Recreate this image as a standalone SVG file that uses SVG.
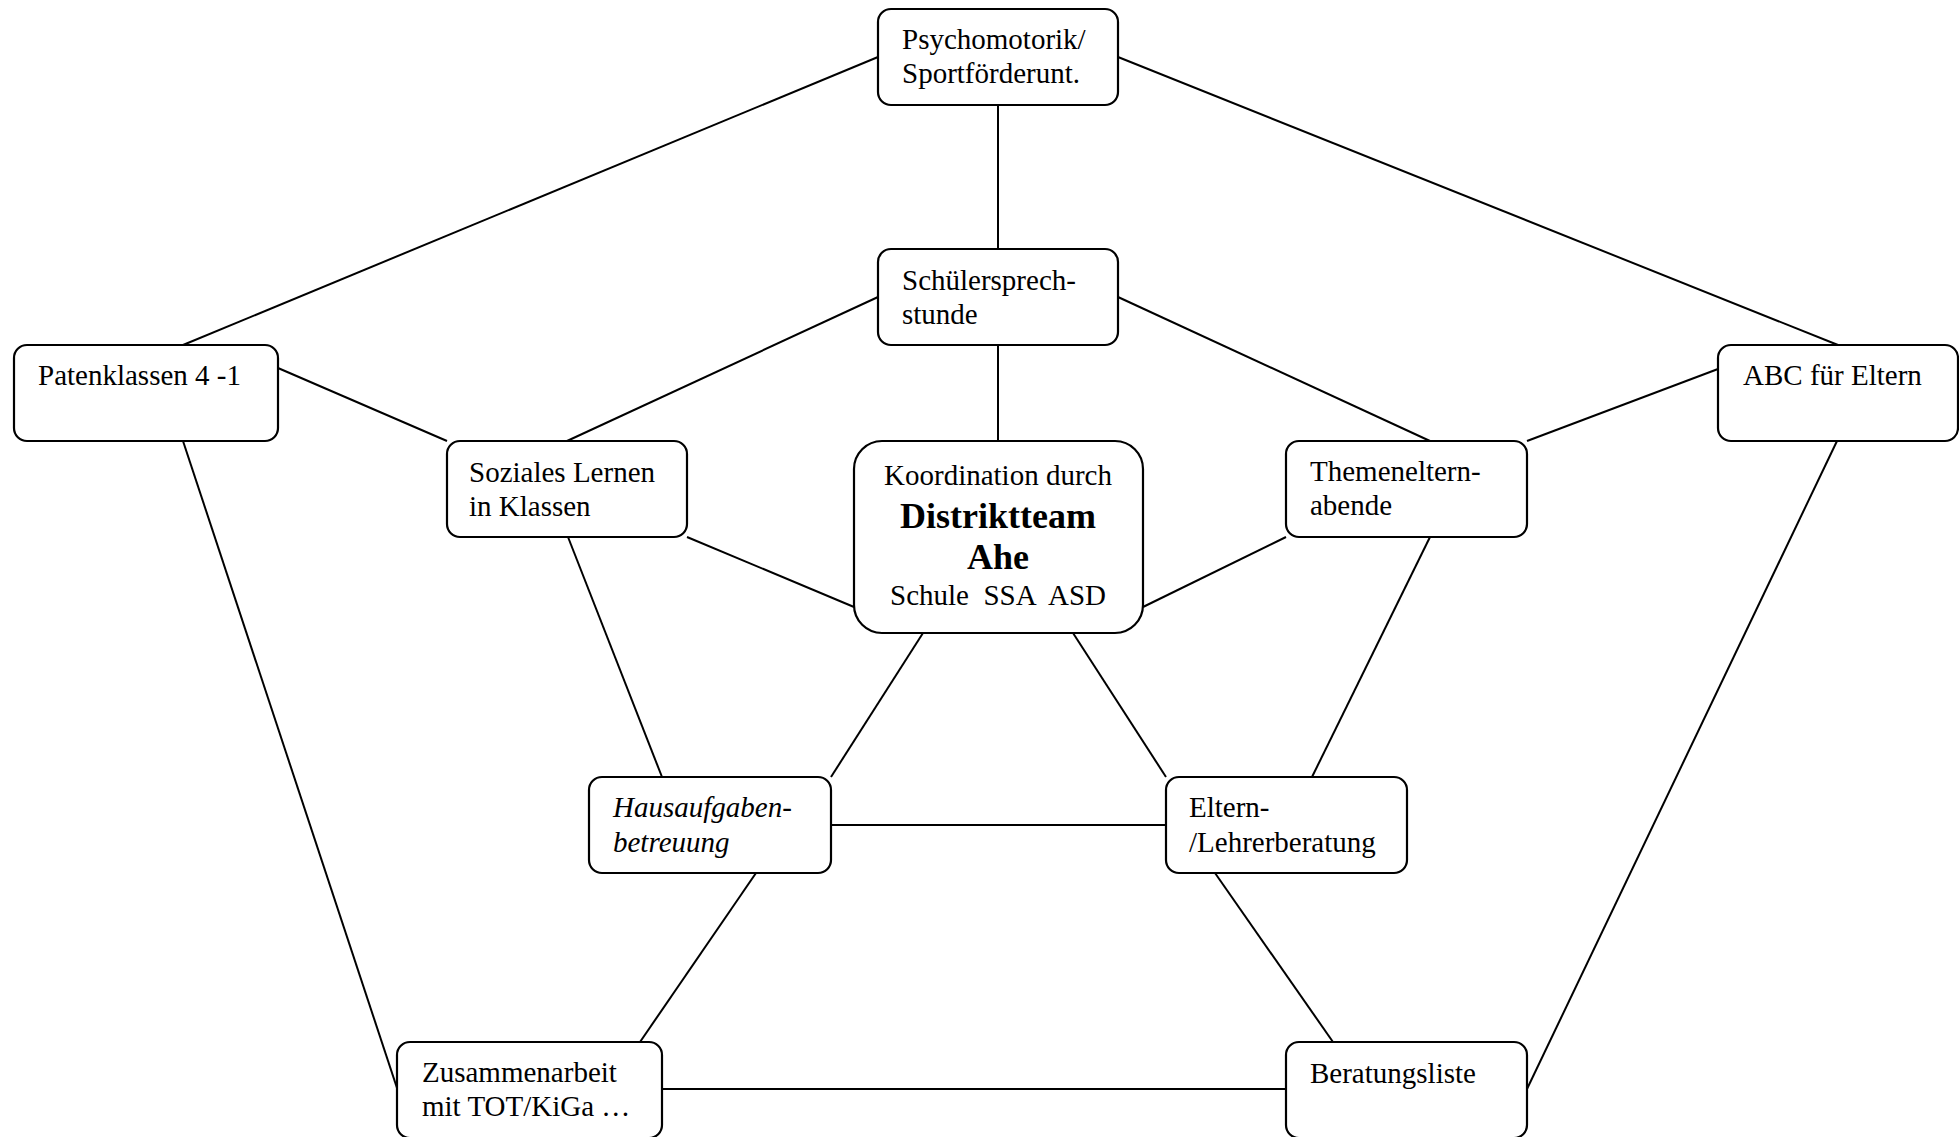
<svg xmlns="http://www.w3.org/2000/svg" width="1959" height="1137" viewBox="0 0 1959 1137">
  <style>
    .box { fill: #ffffff; stroke: #000000; stroke-width: 2.2; }
    .link { stroke: #000000; stroke-width: 2; fill: none; }
    text { font-family: "Liberation Serif", "Times New Roman", serif; font-size: 29px; fill: #000000; }
    .it { font-style: italic; }
    .bold { font-weight: bold; font-size: 36px; }
    .mid { text-anchor: middle; }
  </style>
  <rect x="0" y="0" width="1959" height="1137" fill="#ffffff"/>

  <!-- connectors -->
  <g id="connectors">
    <line class="link" x1="878" y1="57" x2="183" y2="345"/>
    <line class="link" x1="1118" y1="57" x2="1838" y2="345"/>
    <line class="link" x1="998" y1="105" x2="998" y2="249"/>
    <line class="link" x1="878" y1="297" x2="567" y2="441"/>
    <line class="link" x1="1118" y1="297" x2="1430" y2="441"/>
    <line class="link" x1="998" y1="345" x2="998" y2="441"/>
    <line class="link" x1="278" y1="368" x2="447" y2="441"/>
    <line class="link" x1="1718" y1="369" x2="1527" y2="441"/>
    <line class="link" x1="687" y1="537" x2="854" y2="607"/>
    <line class="link" x1="1286" y1="537" x2="1143" y2="607"/>
    <line class="link" x1="568" y1="537" x2="662" y2="777"/>
    <line class="link" x1="1430" y1="537" x2="1312" y2="777"/>
    <line class="link" x1="923" y1="633" x2="831" y2="777"/>
    <line class="link" x1="1073" y1="633" x2="1166" y2="777"/>
    <line class="link" x1="831" y1="825" x2="1166" y2="825"/>
    <line class="link" x1="756" y1="873" x2="640" y2="1042"/>
    <line class="link" x1="1215" y1="873" x2="1333" y2="1042"/>
    <line class="link" x1="183" y1="441" x2="397" y2="1088"/>
    <line class="link" x1="1837" y1="441" x2="1527" y2="1089"/>
    <line class="link" x1="662" y1="1089" x2="1286" y2="1089"/>
  </g>

  <!-- nodes -->
  <g id="psychomotorik">
    <rect class="box" x="878" y="9" width="240" height="96" rx="13"/>
    <text x="902" y="49">Psychomotorik/</text>
    <text x="902" y="83">Sportförderunt.</text>
  </g>
  <g id="schuelersprechstunde">
    <rect class="box" x="878" y="249" width="240" height="96" rx="13"/>
    <text x="902" y="290">Schülersprech-</text>
    <text x="902" y="324">stunde</text>
  </g>
  <g id="patenklassen">
    <rect class="box" x="14" y="345" width="264" height="96" rx="13"/>
    <text x="38" y="385">Patenklassen 4 -1</text>
  </g>
  <g id="soziales-lernen">
    <rect class="box" x="447" y="441" width="240" height="96" rx="13"/>
    <text x="469" y="482">Soziales Lernen</text>
    <text x="469" y="516">in Klassen</text>
  </g>
  <g id="distriktteam">
    <rect class="box" x="854" y="441" width="289" height="192" rx="28"/>
    <text class="mid" x="998" y="485">Koordination durch</text>
    <text class="mid bold" x="998" y="528">Distriktteam</text>
    <text class="mid bold" x="998" y="569">Ahe</text>
    <text class="mid" x="998" y="605" xml:space="preserve">Schule  SSA  ASD</text>
  </g>
  <g id="themenelternabende">
    <rect class="box" x="1286" y="441" width="241" height="96" rx="13"/>
    <text x="1310" y="481">Themeneltern-</text>
    <text x="1310" y="515">abende</text>
  </g>
  <g id="abc-fuer-eltern">
    <rect class="box" x="1718" y="345" width="240" height="96" rx="13"/>
    <text x="1743" y="385">ABC für Eltern</text>
  </g>
  <g id="hausaufgabenbetreuung">
    <rect class="box" x="589" y="777" width="242" height="96" rx="13"/>
    <text class="it" x="613" y="817">Hausaufgaben-</text>
    <text class="it" x="613" y="852">betreuung</text>
  </g>
  <g id="elternberatung">
    <rect class="box" x="1166" y="777" width="241" height="96" rx="13"/>
    <text x="1189" y="817">Eltern-</text>
    <text x="1189" y="852">/Lehrerberatung</text>
  </g>
  <g id="zusammenarbeit">
    <rect class="box" x="397" y="1042" width="265" height="96" rx="13"/>
    <text x="422" y="1082">Zusammenarbeit</text>
    <text x="422" y="1116">mit TOT/KiGa …</text>
  </g>
  <g id="beratungsliste">
    <rect class="box" x="1286" y="1042" width="241" height="96" rx="13"/>
    <text x="1310" y="1083">Beratungsliste</text>
  </g>
</svg>
